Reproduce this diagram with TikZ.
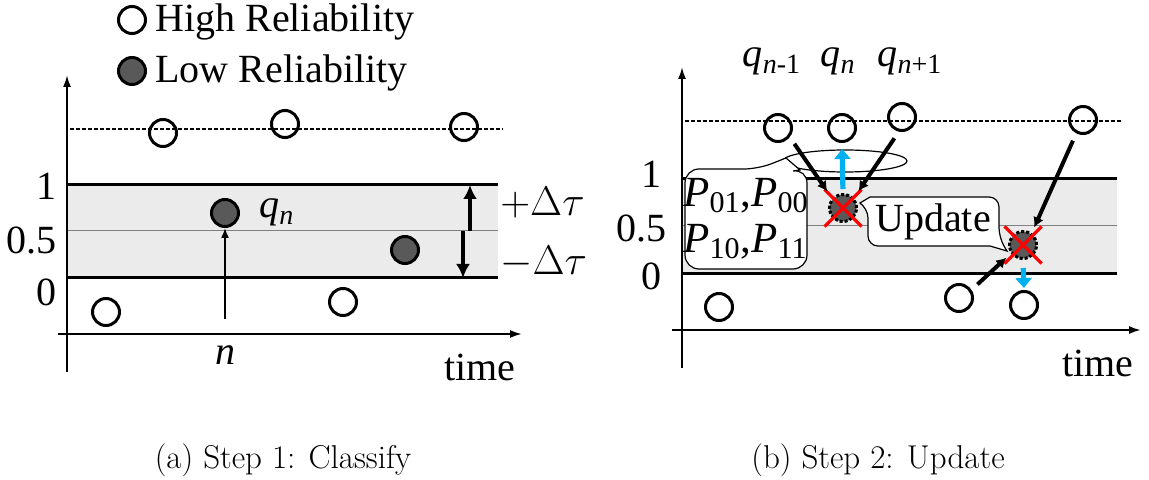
\documentclass[tikz,border=0pt]{standalone}
\usepackage[no-math]{fontspec}
\setmainfont{Liberation Serif}
\newfontfamily\capfont{Latin Modern Roman}
\usepackage{tikz}
\usetikzlibrary{arrows.meta,calc,positioning,shapes.misc}
\definecolor{bandgray}{rgb}{0.92,0.92,0.92}
\definecolor{dotgray}{rgb}{0.35,0.35,0.35}
\definecolor{skyblue}{rgb}{0,0.69,0.94}
\tikzset{
  hi/.style={circle,draw,line width=1.5pt,minimum size=13.5pt,inner sep=0pt},
  lo/.style={hi,fill=dotgray},
  gone/.style={lo,densely dotted},
  xmark/.style={cross out,draw=red,line width=1.6pt,minimum size=17pt,inner sep=0pt},
  axis/.style={line width=1pt,-{Latex[length=6pt,width=4pt]}},
  bandline/.style={line width=1.5pt},
  midline/.style={gray,line width=0.5pt},
  guide/.style={line width=0.6pt,dash pattern=on 2pt off 1pt},
  heavy/.style={line width=2pt,-{Latex[length=5pt,width=5.5pt]}},
  push/.style={skyblue,line width=2.6pt,-{Triangle[length=5pt,width=8pt]}},
  callout/.style={draw,fill=white,line width=0.6pt},
  lbl/.style={inner sep=0pt}
}
\newcommand{\qlab}[1]{\textit{q}\textsubscript{#1}}
\begin{document}
\begin{tikzpicture}[x=0.5pt,y=-0.5pt,font=\fontsize{20}{24}\selectfont]
        \useasboundingbox (0,0) rectangle (1149,480);
        %Legend
        \node[hi] (key1) at (132,20) {};
        \node[lo] (key2) at (132,71) {};
        \node[lbl,anchor=base west] (keytxt1) at (155,32) {High Reliability};
        \node[lbl,anchor=base west] (keytxt2) at (155,83) {Low Reliability};

        %%%% Step 1
        %Color fill
        \fill[bandgray] (67,185) rectangle (498,278);
        \draw[midline] (67,231) -- (498,231);
        \draw[bandline] (67,185) -- (498,185);
        \draw[bandline] (67,278) -- (498,278);
        \draw[guide] (70,129) -- (503,129);
        %Draw axes
        \coordinate (ya0) at (67,372);
        \coordinate (ya1) at (67,75);
        \coordinate (xa0) at (58,334);
        \coordinate (xa1) at (522,334);
        \draw[axis] (ya0) -- (ya1);
        \draw[axis] (xa0) -- (xa1);
        \node[lbl,anchor=east] (ta1) at (57,186) {1};
        \node[lbl,anchor=east] (ta2) at (57,240) {0.5};
        \node[lbl,anchor=east] (ta3) at (57,292) {0};
        \node[lbl,anchor=base] (timea) at (480,380) {time};
        %Draw samples
        \node[hi] (a1) at (106,312) {};
        \node[hi] (a2) at (163,133) {};
        \node[lo] (a3) at (225,213) {};
        \node[hi] (a4) at (285,124) {};
        \node[hi] (a5) at (343,302) {};
        \node[lo] (a6) at (405,250) {};
        \node[hi] (a7) at (464,127) {};
        \node[lbl,anchor=base west] (qa) at (259,218) {\qlab{\textit{n}}};
        \node[lbl,anchor=base] (na) at (225,364) {\textit{n}};
        \coordinate (na0) at (225,319);
        \draw[line width=0.8pt,-{Latex[length=5pt,width=4pt]}] (na0) -- (a3.south);
        %Draw tolerance
        \coordinate (tmid1) at (470,231);
        \coordinate (ttop) at (470,185);
        \coordinate (tmid2) at (463,231);
        \coordinate (tbot) at (463,278);
        \draw[line width=2pt,-{Latex[length=7pt,width=7pt]}] (tmid1) -- (ttop);
        \draw[line width=2pt,-{Latex[length=7pt,width=7pt]}] (tmid2) -- (tbot);
        \node[lbl,anchor=west] (up) at (500,203) {$+\Delta\tau$};
        \node[lbl,anchor=west] (dn) at (500,262) {$-\Delta\tau$};

        %%%% Step 2
        %Color fill
        \fill[bandgray] (682,179) rectangle (1117,274);
        \draw[midline] (682,226) -- (1117,226);
        \draw[bandline] (682,179) -- (1117,179);
        \draw[bandline] (682,274) -- (1117,274);
        \draw[guide] (685,121) -- (1122,121);
        %Draw axes
        \coordinate (yb0) at (682,368);
        \coordinate (yb1) at (682,67);
        \coordinate (xb0) at (672,330);
        \coordinate (xb1) at (1141,330);
        \draw[axis] (yb0) -- (yb1);
        \draw[axis] (xb0) -- (xb1);
        \node[lbl,anchor=east] (tb1) at (662,174) {1};
        \node[lbl,anchor=east] (tb2) at (667,228) {0.5};
        \node[lbl,anchor=east] (tb3) at (662,276) {0};
        \node[lbl,anchor=base] (timeb) at (1098,376) {time};
        %Draw samples
        \node[hi] (b1) at (719,307) {};
        \node[hi] (b2) at (778,128) {};
        \node[hi] (b3) at (842,128) {};
        \node[hi] (b4) at (902,117) {};
        \node[hi] (b5) at (959,298) {};
        \node[hi] (b6) at (1024,305) {};
        \node[hi] (b7) at (1083,120) {};
        \node[gone] (x1) at (843,208) {};
        \node[gone] (x2) at (1023,245) {};
        \node[xmark] at (x1) {};
        \node[xmark] at (x2) {};
        \node[lbl,anchor=base] (qb1) at (772,67) {\qlab{\textit{n}-1}};
        \node[lbl,anchor=base] (qb2) at (838,67) {\qlab{\textit{n}}};
        \node[lbl,anchor=base] (qb3) at (910,67) {\qlab{\textit{n}+1}};
        %Draw neighbours
        \coordinate (ell) at (845,161);
        \draw[line width=0.6pt] (ell) ellipse [x radius=31pt,y radius=5.5pt];
        \draw[heavy,shorten <=4pt,shorten >=4pt] (b2.-38) -- (x1.138);
        \draw[heavy,shorten <=4pt,shorten >=4pt] (b4.-102) -- (x1.43);
        \draw[heavy,shorten <=4pt,shorten >=3pt] (b7.-117) -- (x2.54);
        \draw[heavy,shorten <=4pt,shorten >=3pt] (b5.33) -- (x2.-145);
        \draw[push,shorten <=2pt,shorten >=3pt] (x1.north) -- (b3.south);
        \draw[push,shorten <=4pt,shorten >=1pt] (x2.south) -- (b6.north);
        %Draw callouts
        \draw[callout,rounded corners=7pt] (685,219) -- (685,169) -- (758,169)
          [sharp corners] -- (786,158) -- (800,170) [rounded corners=7pt] -- (807,169) -- (807,269) -- (685,269) -- cycle;
        \node[lbl,align=left,font=\fontsize{21.5}{24}\selectfont] (pp) at (746,219) {\textit{P}\textsubscript{01},\textit{P}\textsubscript{00}\\[-1pt]\textit{P}\textsubscript{10},\textit{P}\textsubscript{11}};
        \draw[callout,rounded corners=5pt] (933,197) -- (999,197) -- (999,238)
          [sharp corners] -- (1007,251) -- (990,246) [rounded corners=5pt] -- (868,246) -- (868,208)
          [sharp corners] -- (860,203) -- (870,197) [rounded corners=5pt] -- cycle;
        \node[lbl] (upd) at (933,222) {Update};

        %Captions
        \node[lbl,font=\capfont\fontsize{16.5}{20}\selectfont] (capa) at (283,460) {(a) Step 1: Classify};
        \node[lbl,font=\capfont\fontsize{16.5}{20}\selectfont] (capb) at (878,460) {(b) Step 2: Update};
\end{tikzpicture}
\end{document}
